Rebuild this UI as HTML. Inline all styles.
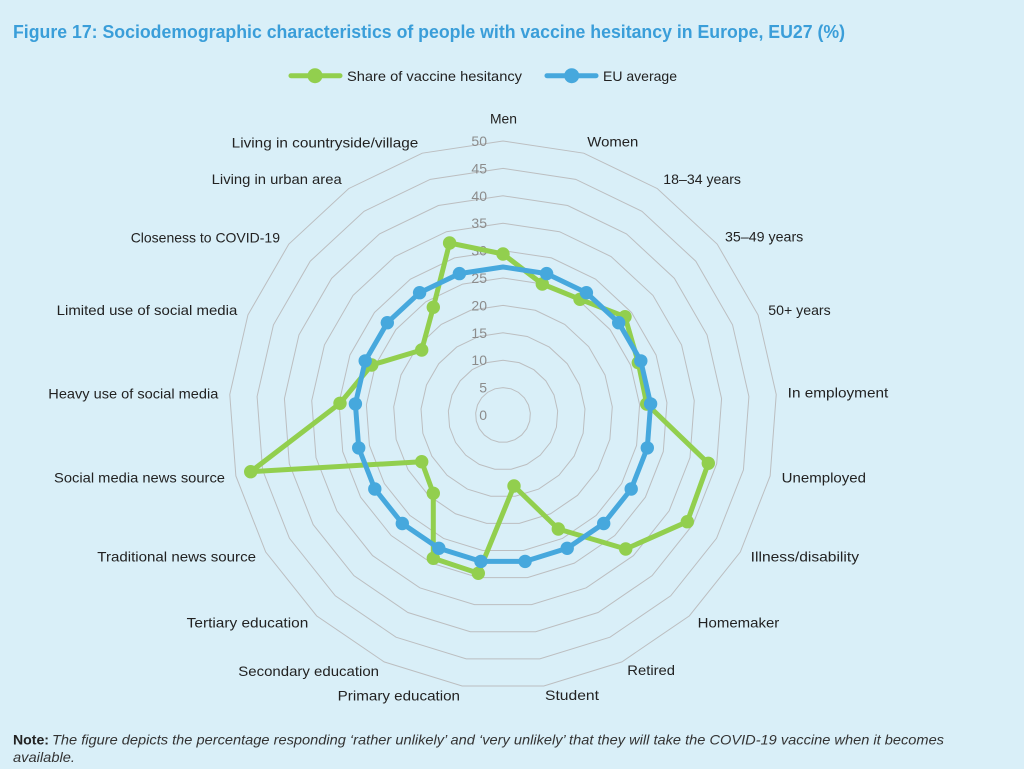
<!DOCTYPE html>
<html>
<head>
<meta charset="utf-8">
<style>
  html,body{margin:0;padding:0;background:#d9eff8;}
  svg{display:block;}
  .cat{font-family:"Liberation Sans",sans-serif;font-size:14px;fill:#222;}
  .tick{font-family:"Liberation Sans",sans-serif;font-size:14px;fill:#8c8c8c;}
</style>
</head>
<body>
<svg width="1024" height="769" viewBox="0 0 1024 769" xmlns="http://www.w3.org/2000/svg">
  <rect x="0" y="0" width="1024" height="769" fill="#d9eff8"/>

  <!-- Title -->
  <text x="13" y="38" font-family="Liberation Sans, sans-serif" font-weight="bold" font-size="18.5" fill="#3a9ed9" textLength="832" lengthAdjust="spacingAndGlyphs">Figure 17: Sociodemographic characteristics of people with vaccine hesitancy in Europe, EU27 (%)</text>

  <!-- Legend -->
  <line x1="291" y1="75.7" x2="340" y2="75.7" stroke="#92cf4e" stroke-width="5" stroke-linecap="round"/>
  <circle cx="315" cy="75.7" r="7.5" fill="#92cf4e"/>
  <text class="cat" x="347" y="81" textLength="175" lengthAdjust="spacingAndGlyphs">Share of vaccine hesitancy</text>
  <line x1="547" y1="75.7" x2="596" y2="75.7" stroke="#46a8dd" stroke-width="5" stroke-linecap="round"/>
  <circle cx="571.7" cy="75.7" r="7.5" fill="#46a8dd"/>
  <text class="cat" x="603" y="81" textLength="74" lengthAdjust="spacingAndGlyphs">EU average</text>

  <!-- Grid rings -->
  <g fill="none" stroke="#bcbec0" stroke-width="1">
    <polygon vector-effect="non-scaling-stroke" transform="translate(503 415) scale(0.274)" points="0,-100 29.476,-95.557 56.332,-82.624 78.183,-62.349 93.087,-36.534 99.720,-7.473 97.493,22.252 86.603,50 68.017,73.305 43.388,90.097 14.904,98.883 -14.904,98.883 -43.388,90.097 -68.017,73.305 -86.603,50 -97.493,22.252 -99.720,-7.473 -93.087,-36.534 -78.183,-62.349 -56.332,-82.624 -29.476,-95.557"/>
    <polygon vector-effect="non-scaling-stroke" transform="translate(503 415) scale(0.548)" points="0,-100 29.476,-95.557 56.332,-82.624 78.183,-62.349 93.087,-36.534 99.720,-7.473 97.493,22.252 86.603,50 68.017,73.305 43.388,90.097 14.904,98.883 -14.904,98.883 -43.388,90.097 -68.017,73.305 -86.603,50 -97.493,22.252 -99.720,-7.473 -93.087,-36.534 -78.183,-62.349 -56.332,-82.624 -29.476,-95.557"/>
    <polygon vector-effect="non-scaling-stroke" transform="translate(503 415) scale(0.822)" points="0,-100 29.476,-95.557 56.332,-82.624 78.183,-62.349 93.087,-36.534 99.720,-7.473 97.493,22.252 86.603,50 68.017,73.305 43.388,90.097 14.904,98.883 -14.904,98.883 -43.388,90.097 -68.017,73.305 -86.603,50 -97.493,22.252 -99.720,-7.473 -93.087,-36.534 -78.183,-62.349 -56.332,-82.624 -29.476,-95.557"/>
    <polygon vector-effect="non-scaling-stroke" transform="translate(503 415) scale(1.096)" points="0,-100 29.476,-95.557 56.332,-82.624 78.183,-62.349 93.087,-36.534 99.720,-7.473 97.493,22.252 86.603,50 68.017,73.305 43.388,90.097 14.904,98.883 -14.904,98.883 -43.388,90.097 -68.017,73.305 -86.603,50 -97.493,22.252 -99.720,-7.473 -93.087,-36.534 -78.183,-62.349 -56.332,-82.624 -29.476,-95.557"/>
    <polygon vector-effect="non-scaling-stroke" transform="translate(503 415) scale(1.370)" points="0,-100 29.476,-95.557 56.332,-82.624 78.183,-62.349 93.087,-36.534 99.720,-7.473 97.493,22.252 86.603,50 68.017,73.305 43.388,90.097 14.904,98.883 -14.904,98.883 -43.388,90.097 -68.017,73.305 -86.603,50 -97.493,22.252 -99.720,-7.473 -93.087,-36.534 -78.183,-62.349 -56.332,-82.624 -29.476,-95.557"/>
    <polygon vector-effect="non-scaling-stroke" transform="translate(503 415) scale(1.644)" points="0,-100 29.476,-95.557 56.332,-82.624 78.183,-62.349 93.087,-36.534 99.720,-7.473 97.493,22.252 86.603,50 68.017,73.305 43.388,90.097 14.904,98.883 -14.904,98.883 -43.388,90.097 -68.017,73.305 -86.603,50 -97.493,22.252 -99.720,-7.473 -93.087,-36.534 -78.183,-62.349 -56.332,-82.624 -29.476,-95.557"/>
    <polygon vector-effect="non-scaling-stroke" transform="translate(503 415) scale(1.918)" points="0,-100 29.476,-95.557 56.332,-82.624 78.183,-62.349 93.087,-36.534 99.720,-7.473 97.493,22.252 86.603,50 68.017,73.305 43.388,90.097 14.904,98.883 -14.904,98.883 -43.388,90.097 -68.017,73.305 -86.603,50 -97.493,22.252 -99.720,-7.473 -93.087,-36.534 -78.183,-62.349 -56.332,-82.624 -29.476,-95.557"/>
    <polygon vector-effect="non-scaling-stroke" transform="translate(503 415) scale(2.192)" points="0,-100 29.476,-95.557 56.332,-82.624 78.183,-62.349 93.087,-36.534 99.720,-7.473 97.493,22.252 86.603,50 68.017,73.305 43.388,90.097 14.904,98.883 -14.904,98.883 -43.388,90.097 -68.017,73.305 -86.603,50 -97.493,22.252 -99.720,-7.473 -93.087,-36.534 -78.183,-62.349 -56.332,-82.624 -29.476,-95.557"/>
    <polygon vector-effect="non-scaling-stroke" transform="translate(503 415) scale(2.466)" points="0,-100 29.476,-95.557 56.332,-82.624 78.183,-62.349 93.087,-36.534 99.720,-7.473 97.493,22.252 86.603,50 68.017,73.305 43.388,90.097 14.904,98.883 -14.904,98.883 -43.388,90.097 -68.017,73.305 -86.603,50 -97.493,22.252 -99.720,-7.473 -93.087,-36.534 -78.183,-62.349 -56.332,-82.624 -29.476,-95.557"/>
    <polygon vector-effect="non-scaling-stroke" transform="translate(503 415) scale(2.740)" points="0,-100 29.476,-95.557 56.332,-82.624 78.183,-62.349 93.087,-36.534 99.720,-7.473 97.493,22.252 86.603,50 68.017,73.305 43.388,90.097 14.904,98.883 -14.904,98.883 -43.388,90.097 -68.017,73.305 -86.603,50 -97.493,22.252 -99.720,-7.473 -93.087,-36.534 -78.183,-62.349 -56.332,-82.624 -29.476,-95.557"/>
  </g>

  <!-- Tick labels -->
  <g class="tick" text-anchor="end">
    <text x="487" y="420">0</text>
    <text x="487" y="392.6">5</text>
    <text x="487" y="365.2">10</text>
    <text x="487" y="337.8">15</text>
    <text x="487" y="310.4">20</text>
    <text x="487" y="283">25</text>
    <text x="487" y="255.6">30</text>
    <text x="487" y="228.2">35</text>
    <text x="487" y="200.8">40</text>
    <text x="487" y="173.4">45</text>
    <text x="487" y="146">50</text>
  </g>

  <!-- Category labels -->
  <g class="cat">
    <text x="490" y="123.3" textLength="27" lengthAdjust="spacingAndGlyphs">Men</text>
    <text x="587.3" y="146.7" textLength="51" lengthAdjust="spacingAndGlyphs">Women</text>
    <text x="663.3" y="184" textLength="77.7" lengthAdjust="spacingAndGlyphs">18–34 years</text>
    <text x="725" y="241.7" textLength="78.3" lengthAdjust="spacingAndGlyphs">35–49 years</text>
    <text x="768.3" y="315" textLength="62.4" lengthAdjust="spacingAndGlyphs">50+ years</text>
    <text x="787.7" y="397.3" textLength="100.6" lengthAdjust="spacingAndGlyphs">In employment</text>
    <text x="781.7" y="482.3" textLength="84.3" lengthAdjust="spacingAndGlyphs">Unemployed</text>
    <text x="750.7" y="561.7" textLength="108.3" lengthAdjust="spacingAndGlyphs">Illness/disability</text>
    <text x="697.7" y="627.7" textLength="81.6" lengthAdjust="spacingAndGlyphs">Homemaker</text>
    <text x="627.3" y="675" textLength="47.7" lengthAdjust="spacingAndGlyphs">Retired</text>
    <text x="545" y="700" textLength="54" lengthAdjust="spacingAndGlyphs">Student</text>
    <text x="337.7" y="700.7" textLength="122.3" lengthAdjust="spacingAndGlyphs">Primary education</text>
    <text x="238.3" y="676" textLength="140.7" lengthAdjust="spacingAndGlyphs">Secondary education</text>
    <text x="186.7" y="627.7" textLength="121.6" lengthAdjust="spacingAndGlyphs">Tertiary education</text>
    <text x="97.3" y="561.7" textLength="158.7" lengthAdjust="spacingAndGlyphs">Traditional news source</text>
    <text x="54" y="482.3" textLength="171" lengthAdjust="spacingAndGlyphs">Social media news source</text>
    <text x="48.3" y="398.3" textLength="170" lengthAdjust="spacingAndGlyphs">Heavy use of social media</text>
    <text x="56.7" y="315" textLength="180.6" lengthAdjust="spacingAndGlyphs">Limited use of social media</text>
    <text x="130.7" y="242.7" textLength="149.3" lengthAdjust="spacingAndGlyphs">Closeness to COVID-19</text>
    <text x="211.7" y="184" textLength="130" lengthAdjust="spacingAndGlyphs">Living in urban area</text>
    <text x="231.7" y="147.3" textLength="186.6" lengthAdjust="spacingAndGlyphs">Living in countryside/village</text>
  </g>

  <!-- Share of vaccine hesitancy (green) -->
  <polygon fill="none" stroke="#92cf4e" stroke-width="5" stroke-linejoin="round"
    points="503,254 542.3,284 580,299.3 625,316.7 638.3,362.7 646.7,404 708.3,463.3 687.3,521.7 625.7,549 558.3,529 514,486 478.3,573.3 433.3,558.3 433.3,493.3 421.7,461.7 250.7,471.7 340,403.3 371.7,365 421.7,350 433.3,307.3 449.6,243"/>
  <g fill="#92cf4e">
    <circle cx="503" cy="254" r="6.7"/>
    <circle cx="542.3" cy="284" r="6.7"/>
    <circle cx="580" cy="299.3" r="6.7"/>
    <circle cx="625" cy="316.7" r="6.7"/>
    <circle cx="638.3" cy="362.7" r="6.7"/>
    <circle cx="646.7" cy="404" r="6.7"/>
    <circle cx="708.3" cy="463.3" r="6.7"/>
    <circle cx="687.3" cy="521.7" r="6.7"/>
    <circle cx="625.7" cy="549" r="6.7"/>
    <circle cx="558.3" cy="529" r="6.7"/>
    <circle cx="514" cy="486" r="6.7"/>
    <circle cx="478.3" cy="573.3" r="6.7"/>
    <circle cx="433.3" cy="558.3" r="6.7"/>
    <circle cx="433.3" cy="493.3" r="6.7"/>
    <circle cx="421.7" cy="461.7" r="6.7"/>
    <circle cx="250.7" cy="471.7" r="6.7"/>
    <circle cx="340" cy="403.3" r="6.7"/>
    <circle cx="371.7" cy="365" r="6.7"/>
    <circle cx="421.7" cy="350" r="6.7"/>
    <circle cx="433.3" cy="307.3" r="6.7"/>
    <circle cx="449.6" cy="243" r="6.7"/>
  </g>

  <!-- EU average (blue) -->
  <polygon fill="none" stroke="#46a8dd" stroke-width="5" stroke-linejoin="round"
    points="503,267 546.6,273.6 586.4,292.7 618.7,322.7 640.8,360.9 650.6,403.9 647.3,447.9 631.2,489 603.7,523.5 567.2,548.3 525.1,561.4 480.9,561.4 438.8,548.3 402.3,523.5 374.8,489 358.7,447.9 355.4,403.9 365.2,360.9 387.3,322.7 419.6,292.7 459.4,273.6"/>
  <g fill="#46a8dd">
    <circle cx="546.6" cy="273.6" r="6.7"/>
    <circle cx="586.4" cy="292.7" r="6.7"/>
    <circle cx="618.7" cy="322.7" r="6.7"/>
    <circle cx="640.8" cy="360.9" r="6.7"/>
    <circle cx="650.6" cy="403.9" r="6.7"/>
    <circle cx="647.3" cy="447.9" r="6.7"/>
    <circle cx="631.2" cy="489" r="6.7"/>
    <circle cx="603.7" cy="523.5" r="6.7"/>
    <circle cx="567.2" cy="548.3" r="6.7"/>
    <circle cx="525.1" cy="561.4" r="6.7"/>
    <circle cx="480.9" cy="561.4" r="6.7"/>
    <circle cx="438.8" cy="548.3" r="6.7"/>
    <circle cx="402.3" cy="523.5" r="6.7"/>
    <circle cx="374.8" cy="489" r="6.7"/>
    <circle cx="358.7" cy="447.9" r="6.7"/>
    <circle cx="355.4" cy="403.9" r="6.7"/>
    <circle cx="365.2" cy="360.9" r="6.7"/>
    <circle cx="387.3" cy="322.7" r="6.7"/>
    <circle cx="419.6" cy="292.7" r="6.7"/>
    <circle cx="459.4" cy="273.6" r="6.7"/>
  </g>

  <!-- Note -->
  <text x="13" y="744.5" font-family="Liberation Sans, sans-serif" font-weight="bold" font-size="14" fill="#222" textLength="36" lengthAdjust="spacingAndGlyphs">Note:</text>
  <text x="52" y="744.5" font-family="Liberation Sans, sans-serif" font-style="italic" font-size="14" fill="#333" textLength="892" lengthAdjust="spacingAndGlyphs">The figure depicts the percentage responding ‘rather unlikely’ and ‘very unlikely’ that they will take the COVID-19 vaccine when it becomes</text>
  <text x="13" y="762" font-family="Liberation Sans, sans-serif" font-style="italic" font-size="14" fill="#333" textLength="62" lengthAdjust="spacingAndGlyphs">available.</text>
</svg>
</body>
</html>
